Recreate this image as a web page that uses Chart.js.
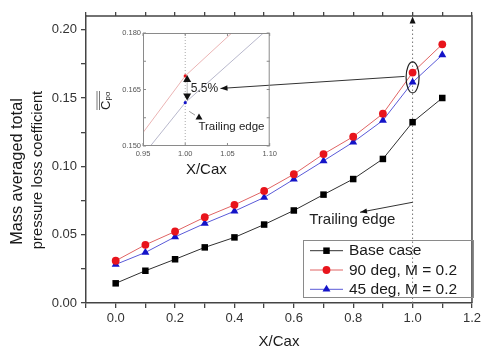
<!DOCTYPE html>
<html>
<head>
<meta charset="utf-8">
<script src="https://cdn.jsdelivr.net/npm/chart.js@4.4.0/dist/chart.umd.min.js"></script>
<style>
html, body { margin: 0; padding: 0; background: #fff; }
#wrap { position: relative; width: 484px; height: 349px; }
#main { position: absolute; left: 0; top: 0; }
#inset { position: absolute; left: 95px; top: 25px; }
</style>
</head>
<body>
<div id="wrap">
<canvas id="main" width="484" height="349"></canvas>
<canvas id="inset" width="185" height="155"></canvas>
</div>
<script>
// values
const xPos = [0.0, 0.1, 0.2, 0.3, 0.4, 0.5, 0.6, 0.7, 0.8, 0.9, 1.0, 1.1];
const baseCase = [0.0144, 0.0236, 0.0320, 0.0407, 0.0480, 0.0574, 0.0677, 0.0793, 0.0907, 0.1054, 0.1323, 0.1500];
const deg90 = [0.0309, 0.0426, 0.0523, 0.0628, 0.0718, 0.0820, 0.0942, 0.1090, 0.1217, 0.1385, 0.1686, 0.1893];
const deg45 = [0.0282, 0.0370, 0.0484, 0.0582, 0.0672, 0.0772, 0.0905, 0.1040, 0.1177, 0.1336, 0.1615, 0.1815];
const names = ["Base case", "90 deg, M = 0.2", "45 deg, M = 0.2"];

const xTicks = [0.0, 0.2, 0.4, 0.6, 0.8, 1.0, 1.2];
const yTicks = [0.00, 0.05, 0.10, 0.15, 0.20];
const insetXTicks = [0.95, 1.00, 1.05, 1.10];
const insetYTicks = [0.150, 0.165, 0.180];

const FONT = "'Liberation Sans', Arial, sans-serif";
Chart.defaults.font.family = FONT;
Chart.defaults.color = "#222";

const pts = (ys) => xPos.map((x, i) => ({ x: x, y: ys[i] }));

// majors plus midpoints between them
function withMinor(major) {
	let out = [];
	for (let i = 0; i < major.length; i++) {
		out.push(major[i]);
		if (i < major.length - 1) out.push((major[i] + major[i + 1]) / 2);
	}
	return out;
}
const isMajor = (v, list) => list.some((m) => Math.abs(m - v) < 1e-9);

function marker(ctx, style, x, y, r, color) {
	ctx.fillStyle = color;
	ctx.beginPath();
	if (style == "rect") {
		let s = r * Math.SQRT1_2;
		ctx.rect(x - s, y - s, 2 * s, 2 * s);
	} else if (style == "circle") {
		ctx.arc(x, y, r, 0, Math.PI * 2);
	} else {
		ctx.moveTo(x, y - r);
		ctx.lineTo(x + r * 0.866, y + r * 0.5);
		ctx.lineTo(x - r * 0.866, y + r * 0.5);
		ctx.closePath();
	}
	ctx.fill();
}

function arrow(ctx, x1, y1, x2, y2, len, half) {
	ctx.beginPath();
	ctx.moveTo(x1, y1);
	ctx.lineTo(x2, y2);
	ctx.stroke();
	let a = Math.atan2(y2 - y1, x2 - x1);
	ctx.beginPath();
	ctx.moveTo(x2, y2);
	ctx.lineTo(x2 - len * Math.cos(a) + half * Math.sin(a), y2 - len * Math.sin(a) - half * Math.cos(a));
	ctx.lineTo(x2 - len * Math.cos(a) - half * Math.sin(a), y2 - len * Math.sin(a) + half * Math.cos(a));
	ctx.closePath();
	ctx.fill();
}

function tri(ctx, x, y, half, h, up) {
	ctx.beginPath();
	if (up) {
		ctx.moveTo(x, y - h / 2);
		ctx.lineTo(x + half, y + h / 2);
		ctx.lineTo(x - half, y + h / 2);
	} else {
		ctx.moveTo(x, y + h / 2);
		ctx.lineTo(x + half, y - h / 2);
		ctx.lineTo(x - half, y - h / 2);
	}
	ctx.closePath();
	ctx.fill();
}

const series = [
	{ label: names[0], data: baseCase, line: "#303030", fill: "#000000", style: "rect", r: 4.6 },
	{ label: names[1], data: deg90, line: "#e06464", fill: "#e8141c", style: "circle", r: 3.9 },
	{ label: names[2], data: deg45, line: "#5a5ad8", fill: "#1414c8", style: "triangle", r: 4.6 },
];

const mainDeco = {
	id: "mainDeco",
	beforeDatasetsDraw(chart) {
		const { ctx, chartArea: a, scales: { x, y } } = chart;
		// trailing edge marker line
		let xe = x.getPixelForValue(1.0);
		ctx.save();
		ctx.strokeStyle = "#777";
		ctx.lineWidth = 1;
		ctx.setLineDash([1.5, 2.5]);
		ctx.beginPath();
		ctx.moveTo(xe, a.bottom);
		ctx.lineTo(xe, a.top + 6);
		ctx.stroke();
		ctx.setLineDash([]);
		ctx.fillStyle = "#111";
		tri(ctx, xe, a.top + 4, 3, 7, true);
		ctx.restore();
	},
	afterDatasetsDraw(chart) {
		const { ctx, chartArea: a, scales: { x, y } } = chart;
		ctx.save();
		// frame top and right
		ctx.strokeStyle = "#444";
		ctx.lineWidth = 1.5;
		ctx.beginPath();
		ctx.moveTo(a.left, a.top);
		ctx.lineTo(a.right, a.top);
		ctx.lineTo(a.right, a.bottom);
		ctx.stroke();

		// ellipse around the two points at the trailing edge
		let ex = x.getPixelForValue(1.0);
		let ey = y.getPixelForValue((deg90[10] + deg45[10]) / 2);
		ctx.strokeStyle = "#222";
		ctx.lineWidth = 1.2;
		ctx.beginPath();
		ctx.ellipse(ex, ey, 6.5, 15.5, 0, 0, Math.PI * 2);
		ctx.stroke();

		// arrow towards the 5.5% label of the inset
		ctx.strokeStyle = "#333";
		ctx.fillStyle = "#111";
		ctx.lineWidth = 1;
		arrow(ctx, ex - 8, ey - 1, x.getPixelForValue(0.353), y.getPixelForValue(0.157), 7, 2.8);

		// trailing edge arrow and text
		arrow(ctx, ex, y.getPixelForValue(0.0737), x.getPixelForValue(0.823), y.getPixelForValue(0.0664), 7, 2.5);
		ctx.fillStyle = "#222";
		ctx.font = "15px " + FONT;
		ctx.textAlign = "center";
		ctx.textBaseline = "middle";
		ctx.fillText("Trailing edge", x.getPixelForValue(0.797), y.getPixelForValue(0.0606));

		// legend
		ctx.strokeStyle = "#8a8a8a";
		ctx.lineWidth = 1;
		ctx.strokeRect(303.5, 240.5, 170, 57);
		ctx.font = "15.5px " + FONT;
		ctx.textAlign = "left";
		series.forEach((s, i) => {
			let ly = 250.7 + i * 19.3;
			ctx.strokeStyle = s.line;
			ctx.beginPath();
			ctx.moveTo(310, ly);
			ctx.lineTo(343, ly);
			ctx.stroke();
			marker(ctx, s.style, 326.5, ly, s.r, s.fill);
			ctx.fillStyle = "#1a1a1a";
			ctx.fillText(s.label, 349, ly + 0.5);
		});

		// y axis title, two lines
		ctx.fillStyle = "#1a1a1a";
		ctx.textAlign = "center";
		ctx.save();
		ctx.translate(18, 171.5);
		ctx.rotate(-Math.PI / 2);
		ctx.font = "16.3px " + FONT;
		ctx.fillText("Mass averaged total", 0, 0);
		ctx.restore();
		ctx.save();
		ctx.translate(38, 170);
		ctx.rotate(-Math.PI / 2);
		ctx.font = "14.8px " + FONT;
		ctx.fillText("pressure loss coefficient", 0, 0);
		ctx.restore();
		ctx.restore();
	},
};

new Chart(document.getElementById("main"), {
	type: "line",
	data: {
		datasets: series.map((s) => ({
			label: s.label,
			data: pts(s.data),
			borderColor: s.line,
			borderWidth: 1,
			backgroundColor: s.fill,
			pointBackgroundColor: s.fill,
			pointBorderColor: s.fill,
			pointBorderWidth: 0,
			pointStyle: s.style,
			pointRadius: s.r,
			tension: 0,
		})),
	},
	options: {
		responsive: false,
		animation: false,
		devicePixelRatio: 1,
		layout: { padding: { top: 0, right: 8, bottom: 0, left: 0 } },
		plugins: { legend: { display: false }, tooltip: { enabled: false } },
		scales: {
			x: {
				type: "linear",
				position: "bottom",
				min: -0.1,
				max: 1.2,
				afterFit(s) { s.height = 46; },
				afterBuildTicks(s) { s.ticks = [-0.1].concat(withMinor(xTicks)).map((v) => ({ value: v })); },
				ticks: {
					autoSkip: false,
					maxRotation: 0,
					padding: 3,
					color: "#333",
					font: { size: 13 },
					callback: (v) => (isMajor(v, xTicks) ? v.toFixed(1) : ""),
				},
				grid: { drawOnChartArea: false, tickLength: 5, color: "#444", lineWidth: 1.3 },
				border: { color: "#444", width: 1.5 },
				title: { display: true, text: "X/Cax", color: "#1a1a1a", font: { size: 15, lineHeight: 1 }, padding: { top: 0, bottom: 0 } },
			},
			x2: {
				type: "linear",
				position: "top",
				min: -0.1,
				max: 1.2,
				afterFit(s) { s.height = 16; },
				afterBuildTicks(s) { s.ticks = [-0.1].concat(withMinor(xTicks)).map((v) => ({ value: v })); },
				ticks: { callback: () => "", padding: 0 },
				grid: { drawOnChartArea: false, tickLength: 4, color: "#444", lineWidth: 1.3 },
				border: { display: false },
			},
			y: {
				type: "linear",
				position: "left",
				min: 0,
				max: 0.21,
				afterFit(s) { s.width = 86; },
				afterBuildTicks(s) { s.ticks = withMinor(yTicks).map((v) => ({ value: v })); },
				ticks: {
					autoSkip: false,
					padding: 4,
					color: "#333",
					font: { size: 13 },
					callback: (v) => (isMajor(v, yTicks) ? v.toFixed(2) : ""),
				},
				grid: { drawOnChartArea: false, tickLength: 5, color: "#444", lineWidth: 1.3 },
				border: { color: "#444", width: 1.5 },
			},
		},
	},
	plugins: [mainDeco],
});

// ---------- inset ----------
const insetDeco = {
	id: "insetDeco",
	beforeDatasetsDraw(chart) {
		const { ctx, chartArea: a, scales: { x, y } } = chart;
		let xe = x.getPixelForValue(1.0);
		ctx.save();
		ctx.strokeStyle = "#aaa";
		ctx.lineWidth = 1;
		ctx.setLineDash([1, 2]);
		ctx.beginPath();
		ctx.moveTo(xe, a.bottom);
		ctx.lineTo(xe, a.top);
		ctx.stroke();
		ctx.restore();
	},
	afterDatasetsDraw(chart) {
		const { ctx, chartArea: a, scales: { x, y } } = chart;
		ctx.save();
		ctx.strokeStyle = "#8a8a8a";
		ctx.lineWidth = 1;
		ctx.strokeRect(a.left + 0.5, a.top + 0.5, a.right - a.left - 1, a.bottom - a.top - 1);
		// inward ticks
		ctx.beginPath();
		x.ticks.forEach((t) => {
			let px = x.getPixelForValue(t.value);
			ctx.moveTo(px, a.bottom);
			ctx.lineTo(px, a.bottom - 3);
			ctx.moveTo(px, a.top);
			ctx.lineTo(px, a.top + 3);
		});
		y.ticks.forEach((t) => {
			let py = y.getPixelForValue(t.value);
			ctx.moveTo(a.left, py);
			ctx.lineTo(a.left + 3, py);
			ctx.moveTo(a.right, py);
			ctx.lineTo(a.right - 3, py);
		});
		ctx.stroke();

		// 5.5% difference marker
		let mx = x.getPixelForValue(1.0023);
		ctx.strokeStyle = "#bbb";
		ctx.beginPath();
		ctx.moveTo(mx, y.getPixelForValue(0.1679));
		ctx.lineTo(mx, y.getPixelForValue(0.1630));
		ctx.stroke();
		ctx.fillStyle = "#111";
		tri(ctx, mx, y.getPixelForValue(0.1679), 4, 7, true);
		tri(ctx, mx, y.getPixelForValue(0.1630), 4, 7, false);
		ctx.font = "12px " + FONT;
		ctx.textAlign = "center";
		ctx.textBaseline = "middle";
		ctx.fillStyle = "#222";
		ctx.fillText("5.5%", x.getPixelForValue(1.0227), y.getPixelForValue(0.1653));

		// trailing edge pointer
		ctx.strokeStyle = "#999";
		ctx.beginPath();
		ctx.moveTo(x.getPixelForValue(1.0047), y.getPixelForValue(0.1592));
		ctx.lineTo(x.getPixelForValue(1.0116), y.getPixelForValue(0.1582));
		ctx.stroke();
		ctx.fillStyle = "#111";
		tri(ctx, x.getPixelForValue(1.0163), y.getPixelForValue(0.1578), 3.5, 6, true);
		ctx.fillStyle = "#222";
		ctx.font = "11.5px " + FONT;
		ctx.fillText("Trailing edge", x.getPixelForValue(1.0547), y.getPixelForValue(0.1550));

		// C_po label with double overline
		ctx.save();
		ctx.translate(15, 85);
		ctx.rotate(-Math.PI / 2);
		ctx.textAlign = "left";
		ctx.textBaseline = "alphabetic";
		ctx.font = "13px " + FONT;
		ctx.fillText("C", 0, 0);
		ctx.font = "8px " + FONT;
		ctx.fillText("po", 9.5, 0);
		ctx.strokeStyle = "#555";
		ctx.lineWidth = 0.8;
		ctx.beginPath();
		ctx.moveTo(0, -10.5);
		ctx.lineTo(19, -10.5);
		ctx.moveTo(0, -13);
		ctx.lineTo(19, -13);
		ctx.stroke();
		ctx.restore();
		ctx.restore();
	},
};

new Chart(document.getElementById("inset"), {
	type: "line",
	data: {
		datasets: [
			{ data: pts(deg90), borderColor: "#ebb4b4", borderWidth: 1, pointRadius: 1.6, pointBackgroundColor: "#e8141c", pointBorderWidth: 0, tension: 0 },
			{ data: pts(deg45), borderColor: "#b8b8cc", borderWidth: 1, pointRadius: 1.6, pointBackgroundColor: "#1414c8", pointBorderWidth: 0, tension: 0 },
		],
	},
	options: {
		responsive: false,
		animation: false,
		devicePixelRatio: 1,
		layout: { padding: { top: 8, right: 8, bottom: 0, left: 0 } },
		plugins: { legend: { display: false }, tooltip: { enabled: false } },
		scales: {
			x: {
				type: "linear",
				min: 0.95,
				max: 1.10,
				afterFit(s) { s.height = 34; },
				afterBuildTicks(s) { s.ticks = insetXTicks.map((v) => ({ value: v })); },
				ticks: { autoSkip: false, maxRotation: 0, padding: 3, color: "#555", font: { size: 7.5 }, callback: (v) => v.toFixed(2) },
				grid: { display: false, drawTicks: false },
				border: { display: false },
				title: { display: true, text: "X/Cax", color: "#1a1a1a", font: { size: 15, lineHeight: 1 }, padding: { top: 0, bottom: 2.5 } },
			},
			y: {
				type: "linear",
				min: 0.150,
				max: 0.180,
				afterFit(s) { s.width = 48; },
				afterBuildTicks(s) { s.ticks = withMinor(insetYTicks).map((v) => ({ value: v })); },
				ticks: {
					autoSkip: false,
					padding: 2,
					color: "#555",
					font: { size: 7.5 },
					callback: (v) => (isMajor(v, insetYTicks) ? v.toFixed(3) : ""),
				},
				grid: { display: false, drawTicks: false },
				border: { display: false },
			},
		},
	},
	plugins: [insetDeco],
});
</script>
</body>
</html>
